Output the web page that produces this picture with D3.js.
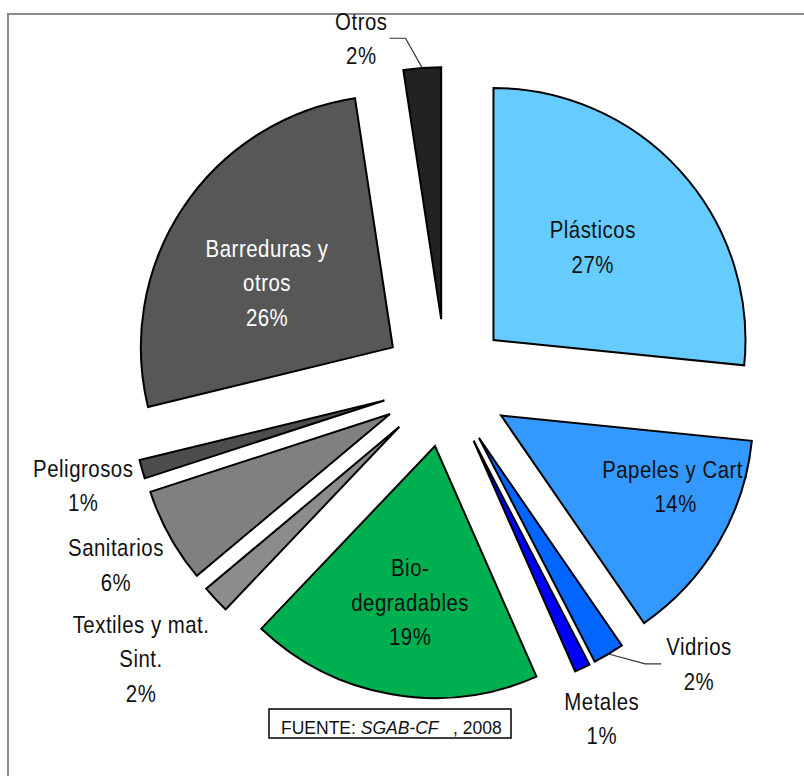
<!DOCTYPE html>
<html>
<head>
<meta charset="utf-8">
<script src="https://cdn.jsdelivr.net/npm/d3@7"></script>
<style>
  body { margin: 0; background: #fff; }
  .lbl { font-family: "Liberation Sans", Arial, sans-serif; font-size: 24px; letter-spacing: 0.6px; }
  .src { font-family: "Liberation Sans", Arial, sans-serif; font-size: 17.5px; white-space: pre; }
</style>
</head>
<body>
<svg id="chart" width="804" height="776"></svg>
<script>
// data: share of each waste type (percent), clockwise from 12 o'clock
var categories = ["Plásticos", "Papeles y Cart.", "Vidrios", "Metales", "Bio-degradables",
  "Textiles y mat. Sint.", "Sanitarios", "Peligrosos", "Barreduras y otros", "Otros"];
var values = [26.6, 13.8, 2.0, 1.0, 18.7, 1.8, 6.1, 1.2, 26.4, 2.4];
var labelLines = [["Plásticos"], ["Papeles y Cart."], ["Vidrios"], ["Metales"], ["Bio-", "degradables"],
  ["Textiles y mat.", "Sint."], ["Sanitarios"], ["Peligrosos"], ["Barreduras y", "otros"], ["Otros"]];
var colors = ["#66ccff", "#3399ff", "#0066ff", "#0000ff", "#00b050",
  "#8c8c8c", "#808080", "#4d4d4d", "#575757", "#222222"];
var textColors = ["#111", "#111", "#111", "#111", "#111", "#111", "#111", "#111", "#fff", "#111"];

// label placement: [angle in degrees clockwise from top, distance from pie centre]
var labelAt = [[47.2, 200], [114.3, 252], [138, 378], [155.1, 370], [189.3, 222],
  [227.9, 411], [241.1, 377], [254.2, 377], [299.2, 205], [346.2, 355]];
// leader lines: which side of the label the line leaves from
var leaders = { 2: "left", 9: "right" };

var svg = d3.select("#chart");
var width = +svg.attr("width");
var height = +svg.attr("height");

// chart frame (runs off the right/bottom edge)
svg.append("rect")
  .attr("x", 8).attr("y", 14)
  .attr("width", width + 20).attr("height", height + 20)
  .attr("fill", "none").attr("stroke", "#8a8a8a").attr("stroke-width", 2);

var cx = 446, cy = 383;
var R = 252, explode = 64;
var lineH = 34.5, capH = 17, narrow = 0.85;

var pie = d3.pie().sort(null).value(function (d) { return d; });
var arcs = pie(values);
var arc = d3.arc().innerRadius(0).outerRadius(R);

var g = svg.append("g").attr("transform", "translate(" + cx + "," + cy + ")");

var mid = function (d) { return (d.startAngle + d.endAngle) / 2; };

g.selectAll(".slice")
  .data(arcs)
  .enter().append("path")
  .attr("class", "slice")
  .attr("d", arc)
  .attr("fill", function (d, i) { return colors[i]; })
  .attr("stroke", "#000")
  .attr("stroke-width", 2)
  .attr("stroke-linejoin", "miter")
  .attr("transform", function (d) {
    var a = mid(d);
    return "translate(" + (explode * Math.sin(a)) + "," + (-explode * Math.cos(a)) + ")";
  });

// labels (narrowed Arial look)
var labels = g.selectAll(".lbl")
  .data(arcs)
  .enter().append("text")
  .attr("class", "lbl")
  .attr("text-anchor", "middle")
  .attr("fill", function (d, i) { return textColors[i]; });

labels.each(function (d, i) {
  var a = labelAt[i][0] * Math.PI / 180, r = labelAt[i][1];
  var x = r * Math.sin(a), y = -r * Math.cos(a);
  var lines = labelLines[i].concat([Math.round(d.value) + "%"]);
  var first = -(lines.length - 1) * lineH / 2 + capH / 2;
  var t = d3.select(this).attr("transform", "translate(" + x + "," + y + ") scale(" + narrow + ",1)");
  lines.forEach(function (s, k) {
    t.append("tspan").attr("x", 0).attr("y", first + k * lineH).text(s);
  });
  if (leaders[i]) {
    var w = 0;
    t.selectAll("tspan").each(function () { w = Math.max(w, this.getComputedTextLength()); });
    w *= narrow;
    var ang = mid(d);
    var px = (R + explode) * Math.sin(ang), py = -(R + explode) * Math.cos(ang);
    var edge = leaders[i] === "left" ? x - w / 2 - 5 : x + w / 2 + 2;
    var elbow = leaders[i] === "left" ? edge - 16 : edge + 16;
    g.append("polyline")
      .attr("points", [[px, py], [elbow, y], [edge, y]].map(function (p) { return p.join(","); }).join(" "))
      .attr("fill", "none")
      .attr("stroke", "#333")
      .attr("stroke-width", 1.2);
  }
});

// source box
var src = svg.append("g");
src.append("rect")
  .attr("x", 269).attr("y", 709).attr("width", 242).attr("height", 29)
  .attr("fill", "#fff").attr("stroke", "#000").attr("stroke-width", 1.5);
var st = src.append("text").attr("class", "src").attr("x", 281).attr("y", 734).attr("fill", "#111");
st.append("tspan").text("FUENTE: ");
st.append("tspan").attr("font-style", "italic").text("SGAB-CF");
st.append("tspan").text("   , 2008");
</script>
</body>
</html>
